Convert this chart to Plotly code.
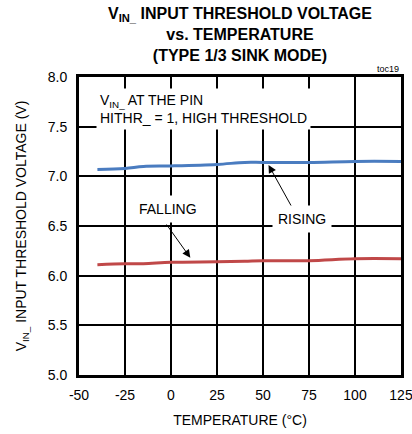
import plotly.graph_objects as go

FONT = "Liberation Sans Narrow, Arial Narrow, Liberation Sans, sans-serif"

# temperature (°C)
temp = [-40, -25, -15, 0, 25, 40, 50, 75, 100, 125]
# rising threshold (V)
rising = [7.07, 7.08, 7.10, 7.105, 7.12, 7.14, 7.14, 7.14, 7.15, 7.15]
# falling threshold (V)
falling = [6.11, 6.12, 6.12, 6.135, 6.14, 6.145, 6.15, 6.15, 6.17, 6.17]

x_ticks = [-50, -25, 0, 25, 50, 75, 100, 125]
y_ticks = [5.0, 5.5, 6.0, 6.5, 7.0, 7.5, 8.0]

fig = go.Figure()

fig.add_trace(go.Scatter(x=temp, y=rising, mode='lines',
                         line=dict(color='#4a7cc0', width=3, shape='spline'),
                         name='RISING'))
fig.add_trace(go.Scatter(x=temp, y=falling, mode='lines',
                         line=dict(color='#c04848', width=3, shape='spline'),
                         name='FALLING'))

# title
fig.add_annotation(x=0.5, y=1.248, xref='paper', yref='paper', xanchor='center',
                   yanchor='top', showarrow=False,
                   text="<b>V<sub>IN_</sub> INPUT THRESHOLD VOLTAGE<br>vs. TEMPERATURE<br>(TYPE 1/3 SINK MODE)</b>",
                   font=dict(size=16, family=FONT, color='black'))

# notes on the plot
fig.add_annotation(x=-41, y=7.68, xanchor='left', yanchor='middle', align='left',
                   text="V<sub>IN_</sub> AT THE PIN<br>HITHR_ = 1, HIGH THRESHOLD",
                   showarrow=False, bgcolor='white', borderpad=3,
                   font=dict(size=14, color='black', family=FONT))
fig.add_annotation(x=10.5, y=6.18, ax=-3, ay=6.53, axref='x', ayref='y',
                   text="", showarrow=True, arrowhead=2, arrowsize=1.6,
                   arrowwidth=1, arrowcolor='black')
fig.add_annotation(x=-1.5, y=6.67, text="FALLING", showarrow=False,
                   bgcolor='white', borderpad=5,
                   font=dict(size=14, color='black', family=FONT))
fig.add_annotation(x=53, y=7.115, ax=66, ay=6.68, axref='x', ayref='y',
                   text="", showarrow=True, arrowhead=2, arrowsize=1.6,
                   arrowwidth=1, arrowcolor='black')
fig.add_annotation(x=71, y=6.57, text="RISING", showarrow=False,
                   bgcolor='white', borderpad=5,
                   font=dict(size=14, color='black', family=FONT))
fig.add_annotation(x=1, y=1.005, xref='paper', yref='paper', xanchor='right',
                   yanchor='bottom', text="toc19", showarrow=False,
                   font=dict(size=9, color='black', family=FONT))

fig.update_layout(
    width=412, height=434,
    margin=dict(l=79, r=11, t=77, b=59),
    paper_bgcolor='white', plot_bgcolor='white',
    showlegend=False,
    font=dict(family=FONT, size=14, color='black'),
    xaxis=dict(range=[-50, 125], tickmode='array', tickvals=x_ticks,
               ticktext=[str(v) for v in x_ticks], ticklabelstandoff=5,
               automargin=False, ticklabeloverflow='allow',
               showgrid=True, gridcolor='#000000', gridwidth=2, zeroline=False,
               showline=True, linecolor='black', linewidth=3, mirror=True,
               ticks='', title=dict(text="TEMPERATURE (°C)", standoff=14,
                                    font=dict(size=14))),
    yaxis=dict(range=[5.0, 8.0], tickmode='array', tickvals=y_ticks,
               ticktext=[f"{v:.1f}" for v in y_ticks], ticklabelstandoff=6,
               automargin=False, ticklabeloverflow='allow',
               showgrid=True, gridcolor='#000000', gridwidth=2, zeroline=False,
               showline=True, linecolor='black', linewidth=3, mirror=True,
               ticks='', title=dict(text="V<sub>IN_</sub> INPUT THRESHOLD VOLTAGE (V)",
                                    standoff=18, font=dict(size=14))),
)

fig.write_html("out.html", config={'displayModeBar': False},
               post_script="document.body.style.margin='0';")
